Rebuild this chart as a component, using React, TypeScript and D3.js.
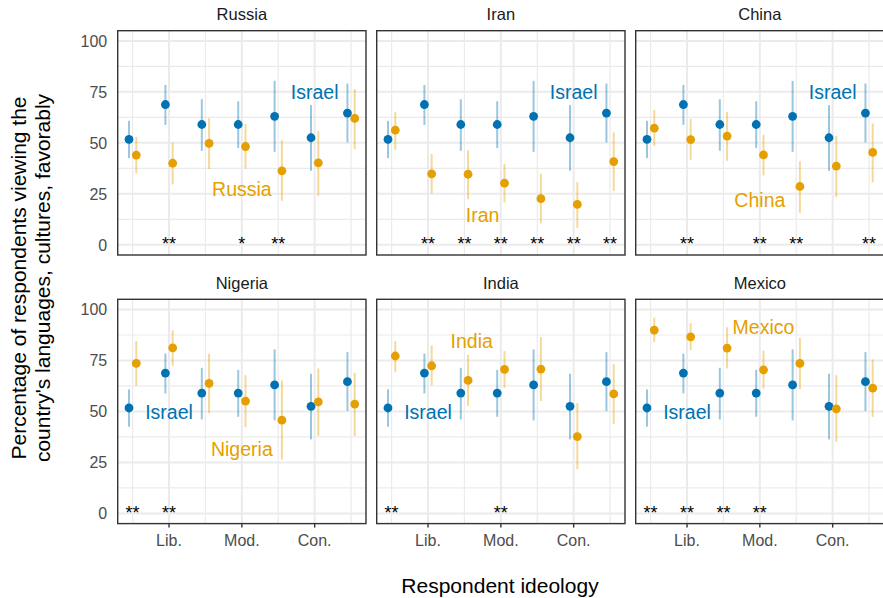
import * as d3 from 'd3';

// ideology scale 1..7, Israel rated by every sample
const ideology = [1, 2, 3, 4, 5, 6, 7];
const tickPos = [2, 4, 6];
const tickLabels = ['Lib.', 'Mod.', 'Con.'];

const israelEst = [51.7, 68.8, 59.0, 59.0, 63.0, 52.5, 64.6];
const israelLo = [42.5, 58.8, 46.1, 47.4, 45.6, 36.3, 50.2];
const israelHi = [60.8, 78.4, 71.4, 70.4, 80.4, 68.5, 79.1];

const russiaEst = [44.0, 40.0, 49.7, 48.2, 36.3, 40.2, 62.0];
const russiaLo = [35.1, 29.6, 37.1, 37.4, 21.6, 24.0, 46.9];
const russiaHi = [52.9, 50.2, 62.1, 59.2, 51.3, 55.7, 76.3];
const russiaStars = ['', '**', '', '*', '**', '', ''];

const iranEst = [56.2, 34.8, 34.6, 30.2, 22.6, 19.8, 40.8];
const iranLo = [46.6, 25.2, 22.4, 20.8, 10.5, 8.3, 26.3];
const iranHi = [65.0, 44.6, 46.4, 39.7, 34.8, 30.7, 55.1];
const iranStars = ['', '**', '**', '**', '**', '**', '**'];

const chinaEst = [57.2, 51.6, 53.3, 44.1, 28.6, 38.6, 45.3];
const chinaLo = [48.5, 41.7, 41.2, 34.0, 15.7, 23.5, 30.6];
const chinaHi = [66.2, 61.8, 65.2, 53.9, 41.0, 53.4, 59.5];
const chinaStars = ['', '**', '', '**', '**', '', '**'];

const nigeriaEst = [73.6, 81.2, 63.8, 55.1, 45.7, 54.7, 53.6];
const nigeriaLo = [62.6, 72.4, 49.2, 42.3, 26.4, 38.0, 38.0];
const nigeriaHi = [84.5, 89.8, 78.3, 67.8, 65.2, 71.1, 69.0];
const nigeriaStars = ['**', '**', '', '', '', '', ''];

const indiaEst = [77.2, 72.4, 65.2, 70.6, 70.8, 37.7, 58.6];
const indiaLo = [69.2, 62.9, 52.8, 61.6, 55.1, 21.7, 43.8];
const indiaHi = [84.5, 82.4, 77.7, 79.6, 86.5, 54.1, 73.2];
const indiaStars = ['**', '', '', '**', '', '', ''];

const mexicoEst = [89.9, 86.6, 81.1, 70.4, 73.6, 51.3, 61.4];
const mexicoLo = [84.0, 80.1, 71.1, 61.3, 61.0, 35.1, 47.3];
const mexicoHi = [96.0, 93.2, 91.3, 79.8, 86.1, 67.8, 75.5];
const mexicoStars = ['**', '**', '**', '**', '', '', ''];

const countries = ['Russia', 'Iran', 'China', 'Nigeria', 'India', 'Mexico'];
// where the in-panel labels sit, in data units [x, y]
const israelLabelAt = [[6, 75], [6, 75], [6, 75], [2, 49.5], [2, 49.5], [2, 49.5]];
const countryLabelAt = [[4, 27.6], [3.5, 14.8], [4, 21.8], [4, 31.5], [3.2, 84.5], [4.1, 91.6]];

const panels = [
  { est: russiaEst, lo: russiaLo, hi: russiaHi, stars: russiaStars },
  { est: iranEst, lo: iranLo, hi: iranHi, stars: iranStars },
  { est: chinaEst, lo: chinaLo, hi: chinaHi, stars: chinaStars },
  { est: nigeriaEst, lo: nigeriaLo, hi: nigeriaHi, stars: nigeriaStars },
  { est: indiaEst, lo: indiaLo, hi: indiaHi, stars: indiaStars },
  { est: mexicoEst, lo: mexicoLo, hi: mexicoHi, stars: mexicoStars },
];

const BLUE = '#0072B2';
const ORANGE = '#E69F00';
const FONT = '"Liberation Sans", Arial, Helvetica, sans-serif';

const width = 883;
const height = 598;
const panelW = 248.3;
const panelH = 224.3;
const lefts = [117.7, 376.7, 635.7];
const tops = [30.7, 299.3];
const dodge = 0.1;

const x = d3.scaleLinear().domain([0.59, 7.41]).range([0, panelW]);
const y = d3.scaleLinear().domain([-5, 105]).range([panelH, 0]);
const yMajor = [0, 25, 50, 75, 100];
const yMinor = [12.5, 37.5, 62.5, 87.5];
const xMinor = [1, 3, 5, 7];

const Series = ({ est, lo, hi, shift, color }) => (
  <g>
    {ideology.map((p, i) => (
      <line
        key={'e' + i}
        x1={x(p + shift)}
        x2={x(p + shift)}
        y1={y(lo[i])}
        y2={y(hi[i])}
        stroke={color}
        strokeOpacity={0.4}
        strokeWidth={2}
      />
    ))}
    {ideology.map((p, i) => (
      <circle key={'p' + i} cx={x(p + shift)} cy={y(est[i])} r={4.4} fill={color} />
    ))}
  </g>
);

const Panel = ({ idx }) => {
  const col = idx % 3;
  const row = Math.floor(idx / 3);
  const d = panels[idx];
  const name = countries[idx];
  return (
    <g transform={`translate(${lefts[col]},${tops[row]})`}>
      {yMinor.map((v) => (
        <line key={'ym' + v} x1={0} x2={panelW} y1={y(v)} y2={y(v)} stroke="#ebebeb" strokeWidth={1.2} />
      ))}
      {xMinor.map((v) => (
        <line key={'xm' + v} x1={x(v)} x2={x(v)} y1={0} y2={panelH} stroke="#ebebeb" strokeWidth={1.2} />
      ))}
      {yMajor.map((v) => (
        <line key={'yM' + v} x1={0} x2={panelW} y1={y(v)} y2={y(v)} stroke="#ebebeb" strokeWidth={2} />
      ))}
      {tickPos.map((v) => (
        <line key={'xM' + v} x1={x(v)} x2={x(v)} y1={0} y2={panelH} stroke="#ebebeb" strokeWidth={2} />
      ))}
      <Series est={israelEst} lo={israelLo} hi={israelHi} shift={-dodge} color={BLUE} />
      <Series est={d.est} lo={d.lo} hi={d.hi} shift={dodge} color={ORANGE} />
      {ideology.map((p, i) =>
        d.stars[i] ? (
          <text key={'s' + i} x={x(p)} y={y(-2.6)} textAnchor="middle" fontSize={18} fill="#000">
            {d.stars[i]}
          </text>
        ) : null
      )}
      <text
        x={x(israelLabelAt[idx][0])}
        y={y(israelLabelAt[idx][1])}
        dy="0.36em"
        textAnchor="middle"
        fontSize={19.5}
        fill={BLUE}
      >
        Israel
      </text>
      <text
        x={x(countryLabelAt[idx][0])}
        y={y(countryLabelAt[idx][1])}
        dy="0.36em"
        textAnchor="middle"
        fontSize={19.5}
        fill={ORANGE}
      >
        {name}
      </text>
      <rect x={0} y={0} width={panelW} height={panelH} fill="none" stroke="#333333" strokeWidth={1.4} />
      <text x={panelW / 2} y={-10.3} textAnchor="middle" fontSize={16.5} fill="#1a1a1a">
        {name}
      </text>
      {col === 0 &&
        yMajor.map((v) => (
          <text key={'yl' + v} x={-10.5} y={y(v)} dy="0.36em" textAnchor="end" fontSize={16} fill="#4d4d4d">
            {v}
          </text>
        ))}
      {row === 1 &&
        tickPos.map((v, i) => (
          <g key={'xt' + v}>
            <line x1={x(v)} x2={x(v)} y1={panelH} y2={panelH + 4} stroke="#333333" strokeWidth={1.4} />
            <text x={x(v)} y={panelH + 22.5} textAnchor="middle" fontSize={16} fill="#4d4d4d">
              {tickLabels[i]}
            </text>
          </g>
        ))}
    </g>
  );
};

export default function App() {
  return (
    <svg
      width={width}
      height={height}
      style={{ position: 'absolute', left: 0, top: 0, background: '#fff' }}
      fontFamily={FONT}
    >
      <rect width={width} height={height} fill="#fff" />
      {countries.map((c, i) => (
        <Panel key={c} idx={i} />
      ))}
      <text x={500} y={593} textAnchor="middle" fontSize={21} fill="#000">
        Respondent ideology
      </text>
      <g transform="translate(0,278) rotate(-90)">
        <text x={0} y={25.5} textAnchor="middle" fontSize={21} fill="#000">
          Percentage of respondents viewing the
        </text>
        <text x={0} y={49.5} textAnchor="middle" fontSize={21} fill="#000">
          country's languages, cultures, favorably
        </text>
      </g>
    </svg>
  );
}
